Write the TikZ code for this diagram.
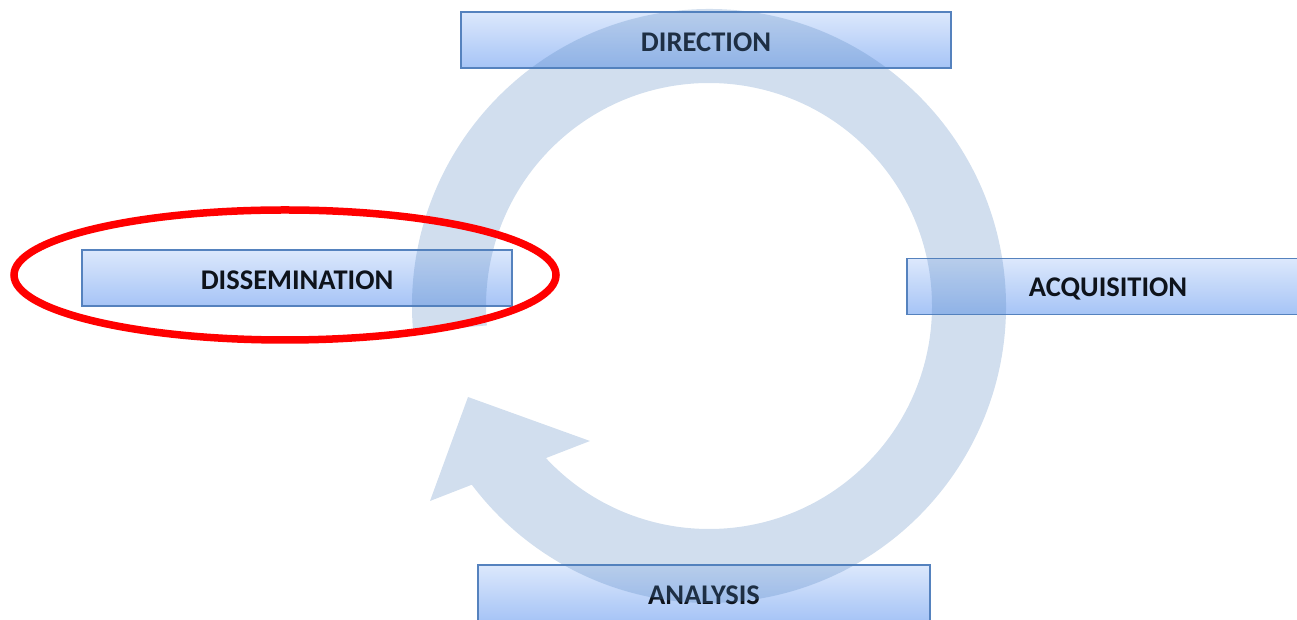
\documentclass[tikz,border=0pt]{standalone}
\usepackage{fontspec}
\setmainfont{Carlito}
\usepackage{tikz}
\usetikzlibrary{positioning,shapes}
\definecolor{boxtop}{HTML}{DCE8FC}
\definecolor{boxbottom}{HTML}{A6C4F6}
\definecolor{boxline}{HTML}{5582BE}
\definecolor{bandcol}{HTML}{4F81BD}
\definecolor{textcol}{HTML}{0E131B}
\tikzset{
    stage/.style={
        draw=boxline,
        line width=1.5pt,
        rectangle,
        top color=boxtop,
        bottom color=boxbottom,
        minimum height=56pt,
        inner sep=0pt,
        text height=23pt,
        text=textcol,
        font=\fontsize{28.5}{32}\selectfont\bfseries
    },
    loopband/.style={
        fill=bandcol,
        fill opacity=0.26
    }
}

\begin{document}
\begin{tikzpicture}[x=1pt, y=1pt]
  \useasboundingbox (0,0) rectangle (1297,620);

  % Stages of the cycle
  \node[stage, minimum width=490pt] (dir) at (706,580) {DIRECTION};
  \node[stage, minimum width=430pt] (diss) at (297,342) {DISSEMINATION};
  \node[stage, minimum width=402pt] (acq) at (1108,333.5) {ACQUISITION};
  \node[stage, minimum width=452pt] (ana) at (704,27) {ANALYSIS};

  % Cycle arrow
  \coordinate (c) at (709,314);
  \fill[loopband] (c) ++(185:297) arc[start angle=185, end angle=-143, radius=297]
    -- (430,119) -- (468,223) -- (590,179)
    -- ([shift={(-137:223)}]c) arc[start angle=-137, end angle=185, radius=223]
    -- cycle;

  % Highlight
  \node[draw=red, line width=7.5pt, ellipse, minimum width=542pt, minimum height=130pt] (mark) at (285,345) {};
\end{tikzpicture}
\end{document}
